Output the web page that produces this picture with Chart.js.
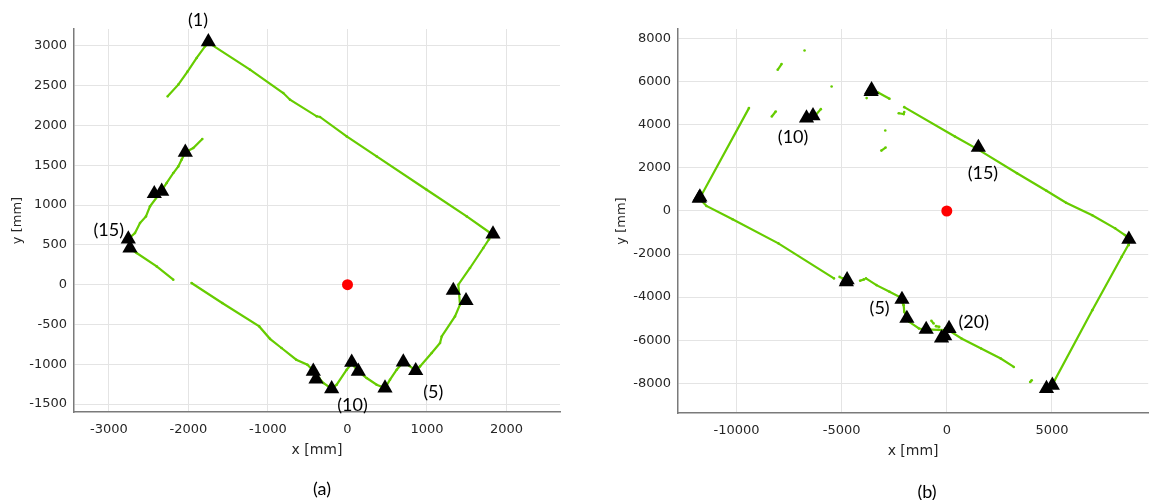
<!DOCTYPE html>
<html><head><meta charset="utf-8">
<script src="https://cdn.jsdelivr.net/npm/chart.js@4.4.1/dist/chart.umd.min.js"></script>
<style>
html,body{margin:0;padding:0;background:#fff;}
#wrap{position:relative;width:1157px;height:500px;overflow:hidden;background:#fff;}
.panel{position:absolute;top:0;height:500px;}
#pa{left:0;width:580px;}
#pb{left:580px;width:577px;}
.cap{position:absolute;font-family:Lato,'Open Sans',sans-serif;font-size:18px;color:#000;transform:translate(-50%,-50%);white-space:nowrap;}
</style></head><body>
<div id="wrap">
<div class="panel" id="pa"><canvas id="ca" width="580" height="500"></canvas></div>
<div class="panel" id="pb"><canvas id="cb" width="577" height="500"></canvas></div>
<div class="cap" style="left:322px;top:488px">(a)</div>
<div class="cap" style="left:927px;top:491px">(b)</div>
</div>
<script>
// ---------- Panel (a) data ----------
const aScanX = [-2262,-2128,-2010,-1897,-1792,-1750,-1226,-808,-723,-387,-346,-10,367,996,1500,1810,1780,1708,1541,1394,1415,1352,1185,1164,1059,912,858,780,702,619,535,472,367,241,136,53,-10,-136,-199,-304,-350,-430,-504,-644,-830,-975,-1110,-1576,-1962,
  null,
  -1826,-1940,-2040,-2087,-2128,-2191,-2274,-2358,-2484,-2535,-2610,-2673,-2757,-2736,-2715,-2652,-2400,-2191];
const aScanY = [2366,2513,2680,2848,2994,3040,2701,2408,2324,2115,2107,1863,1612,1193,858,640,570,461,210,0,-251,-398,-650,-733,-858,-1026,-1080,-1020,-971,-1068,-1193,-1298,-1256,-1172,-1089,-990,-1068,-1256,-1307,-1235,-1180,-1080,-1005,-942,-795,-680,-524,-230,21,
  null,
  1830,1717,1662,1570,1486,1403,1278,1152,984,858,775,649,574,461,440,398,230,63];
const aMarkX = [-1750,1830,1331,1491,858,702,472,136,53,-199,-396,-430,-2736,-2757,-2430,-2337,-2040];
const aMarkY = [3050,635,-72,-201,-1080,-971,-1298,-1089,-976,-1307,-1185,-1089,461,574,1143,1172,1662];
const aLabelText = ['(1)','(5)','(10)','(15)'];
const aLabelX = [-1880,1079,63,-3003];
const aLabelY = [3317,-1354,-1508,691];
const aTicksX = [-3000,-2000,-1000,0,1000,2000];
const aTicksY = [-1500,-1000,-500,0,500,1000,1500,2000,2500,3000];

// ---------- Panel (b) data ----------
const bScanX = [-9407,-11660,-11770,-11427,-10186,-8008,-5364, null,
  -5100,-4950, null, -4123,-3937, null,
  -3843,-3344,-2722,-2257,-2052,-2021,-1788,-1325,-980,-400,75,700,1632,2565,3186, null,
  -732,-625, null, -513,-359, null, 3965,4039, null,
  5051,5130,6917,8316,8629,8657,8470,8004,6917,5672,4739,3340,1500,387,-2024, null,
  -2285,-2050,-2024, null, -8041,-7855, null, -8321,-8134, null, -6222,-5989, null,
  -3265,-2724, null, -3111,-2910, null, -6763, null, -5476, null, -3811, null, -2925];
const bScanY = [4777,744,590,233,-386,-1502,-3130, null,
  -3060,-3130, null, -3242,-3177, null,
  -3130,-3442,-3753,-3986,-4372,-4683,-5149,-5456,-5502,-5520,-5535,-5921,-6386,-6851,-7242, null,
  -5102,-5223, null, -5349,-5381, null, -7940,-7860, null,
  -7940,-7860,-4605,-2126,-1581,-1316,-1116,-805,-200,380,940,1753,2850,3456,4823, null,
  4540,4500,4600, null, 6558,6823, null, 4386,4619, null, 4465,4730, null,
  5502,5209, null, 2805,2944, null, 7456, null, 5781, null, 5242, null, 3735];
const bMarkX = [-11770,-11740,-6670,-6362,-3577,-3600,1500,8657,4739,5019,-4776,-4740,-2131,-1898,-980,-250,-100,107];
const bMarkY = [590,650,4312,4419,5628,5540,2950,-1316,-8247,-8093,-3288,-3200,-4107,-4991,-5502,-5900,-5800,-5456];
const bLabelText = ['(5)','(10)','(15)','(20)'];
const bLabelX = [-3195,-7309,1716,1283];
const bLabelY = [-4502,3433,1777,-5163];
const bTicksX = [-10000,-5000,0,5000];
const bTicksY = [-8000,-6000,-4000,-2000,0,2000,4000,6000,8000];

// ---------- helpers ----------
function segments(xs, ys) {
  const out = []; let cur = [];
  xs.forEach((x, i) => {
    if (x === null) { if (cur.length) out.push(cur); cur = []; }
    else cur.push({x: x, y: ys[i]});
  });
  if (cur.length) out.push(cur);
  return out;
}
function pts(xs, ys) { return xs.map((x, i) => ({x: x, y: ys[i]})); }

const GREEN = '#66cc00';
const TICKFONT = {family: 'DejaVu Sans', size: 13};

function build(canvasId, cfg) {
  const datasets = [];
  datasets.push({data: pts(cfg.markX, cfg.markY), pointStyle: 'triangle', pointRadius: 8.8,
    backgroundColor: '#000', borderColor: '#000', borderWidth: 0, showLine: false, order: 0});
  datasets.push({data: [{x: 0, y: 0}], pointStyle: 'circle', pointRadius: 5.5,
    backgroundColor: '#ff0000', borderColor: '#ff0000', borderWidth: 0, showLine: false, order: 1});
  segments(cfg.scanX, cfg.scanY).forEach(seg => {
    datasets.push({data: seg, showLine: true, borderColor: GREEN, borderWidth: 2.2,
      pointRadius: 1.3, pointBackgroundColor: GREEN, pointBorderWidth: 0, tension: 0, order: 5});
  });
  const labelPlugin = {
    id: 'pointLabels',
    afterDatasetsDraw(chart) {
      const ctx = chart.ctx, sx = chart.scales.x, sy = chart.scales.y;
      ctx.save();
      ctx.font = '18px Lato, "Open Sans", sans-serif';
      ctx.fillStyle = '#000';
      ctx.textAlign = 'center';
      ctx.textBaseline = 'middle';
      cfg.labelText.forEach((t, i) => {
        ctx.fillText(t, sx.getPixelForValue(cfg.labelX[i]), sy.getPixelForValue(cfg.labelY[i]));
      });
      ctx.restore();
    }
  };
  return new Chart(document.getElementById(canvasId), {
    type: 'scatter',
    data: {datasets: datasets},
    plugins: [labelPlugin],
    options: {
      responsive: false, animation: false,
      layout: {padding: {left: 0, right: cfg.padRight, top: 29, bottom: 0}},
      plugins: {legend: {display: false}, tooltip: {enabled: false}},
      scales: {
        x: {
          type: 'linear', position: 'bottom', min: cfg.xMin, max: cfg.xMax,
          afterBuildTicks: ax => { ax.ticks = cfg.ticksX.map(v => ({value: v})); },
          afterFit: ax => { ax.height = cfg.xAxisH; },
          ticks: {font: TICKFONT, color: '#262626', padding: 10, maxRotation: 0, autoSkip: false,
            callback: v => String(v)},
          grid: {color: '#e4e4e4', lineWidth: 1, drawTicks: false},
          border: {display: true, color: '#7a7a7a', width: 1.5},
          title: {display: true, text: 'x [mm]', color: '#262626',
            font: {family: 'DejaVu Sans', size: 14}, padding: {top: 0, bottom: cfg.xTitlePad}}
        },
        y: {
          type: 'linear', position: 'left', min: cfg.yMin, max: cfg.yMax,
          afterBuildTicks: ax => { ax.ticks = cfg.ticksY.map(v => ({value: v})); },
          afterFit: ax => { ax.width = cfg.yAxisW; },
          ticks: {font: TICKFONT, color: '#262626', padding: 7, autoSkip: false,
            callback: v => String(v)},
          grid: {color: '#e4e4e4', lineWidth: 1, drawTicks: false},
          border: {display: true, color: '#7a7a7a', width: 1.5},
          title: {display: true, text: 'y [mm]', color: '#262626',
            font: {family: 'DejaVu Sans', size: 13}, padding: {top: cfg.yTitlePad, bottom: 0}}
        }
      }
    }
  });
}

build('ca', {scanX: aScanX, scanY: aScanY, markX: aMarkX, markY: aMarkY,
  labelText: aLabelText, labelX: aLabelX, labelY: aLabelY, ticksX: aTicksX, ticksY: aTicksY,
  xMin: -3440, xMax: 2673, yMin: -1599, yMax: 3212,
  padRight: 20, xAxisH: 88, yAxisW: 74, xTitlePad: 41.5, yTitlePad: 10});
build('cb', {scanX: bScanX, scanY: bScanY, markX: bMarkX, markY: bMarkY,
  labelText: bLabelText, labelX: bLabelX, labelY: bLabelY, ticksX: bTicksX, ticksY: bTicksY,
  xMin: -12780, xMax: 9576, yMin: -9381, yMax: 8451,
  padRight: 0, xAxisH: 87, yAxisW: 98, xTitlePad: 40, yTitlePad: 33.5});
</script>
</body></html>
